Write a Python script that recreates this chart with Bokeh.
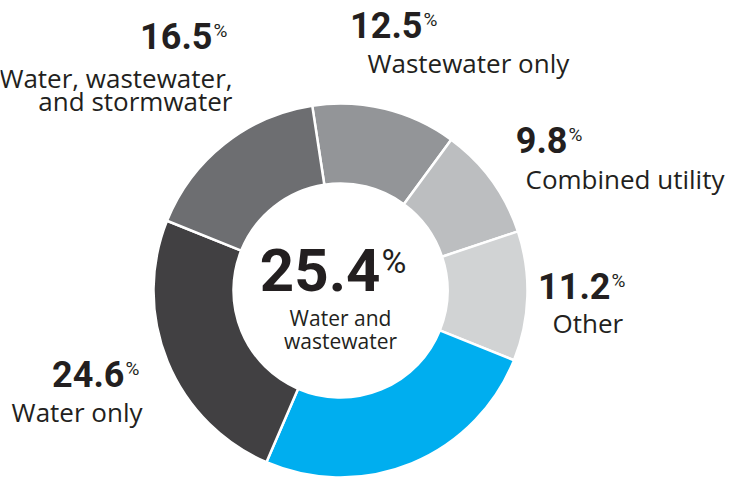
import math
from bokeh.plotting import figure
from bokeh.models import Range1d, ColumnDataSource
from bokeh.core.properties import value
from bokeh.embed import file_html
from bokeh.resources import INLINE

# ---- data ----
categories = ["Wastewater only", "Combined utility", "Other",
              "Water and wastewater", "Water only",
              "Water, wastewater,\nand stormwater"]
shares = [12.5, 9.8, 11.2, 25.4, 24.6, 16.5]
colors = ["#939598", "#bcbec0", "#d1d3d4", "#00aeef", "#414042", "#6d6e71"]

W, H = 733, 481
p = figure(width=W, height=H, output_backend="svg", toolbar_location=None,
           x_range=Range1d(0, W), y_range=Range1d(0, H), min_border=0)
p.axis.visible = False
p.grid.visible = False
p.outline_line_color = None
p.background_fill_color = "white"

def sx(x):
    return x

def sy(y):
    return H - y

cx, cy = sx(340), sy(290)
r_in, r_out = 107, 187
start_offset = -8.7  # degrees clockwise from top

total = sum(shares)
starts, ends = [], []
acc = start_offset
for v in shares:
    a0 = acc
    a1 = acc + v / total * 360.0
    starts.append(math.radians(90 - a0))
    ends.append(math.radians(90 - a1))
    acc = a1

src = ColumnDataSource(dict(start=starts, end=ends, color=colors,
                            x=[cx] * len(shares), y=[cy] * len(shares)))
p.annular_wedge(x="x", y="y", inner_radius=r_in, outer_radius=r_out,
                start_angle="start", end_angle="end", direction="clock",
                fill_color="color", line_color="white", line_width=2.5,
                source=src)

NUM_FONT = value("Roboto")
LAB_FONT = value("Open Sans")
TXT = "#231f20"
BASE_FIX = 0.35  # renderer places alphabetic baseline ~0.35em low
CAP = 0.71

def put(txt, x, baseline, size, font, style, align):
    p.text(x=[sx(x)], y=[sy(baseline - BASE_FIX * size)], text=[txt],
           text_font=font, text_font_style=style,
           text_font_size=f"{size}px", text_color=TXT,
           text_align=align, text_baseline="alphabetic")

def number(val, x_right, baseline, size, pct_size):
    put(f"{val}", x_right, baseline, size, NUM_FONT, "bold", "right")
    top = baseline - CAP * size
    put("%", x_right + 1, top + CAP * pct_size + 1, pct_size, NUM_FONT,
        "normal", "left")

def label(txt, x, baseline, align, size=26, lh=23):
    for i, line in enumerate(txt.split("\n")):
        put(line, x, baseline + i * lh, size, LAB_FONT, "normal", align)

NS, PS = 36, 19
# Wastewater only
number(shares[0], 422, 37, NS, PS)
label(categories[0], 367, 72, "left")
# Combined utility
number(shares[1], 567, 152, NS, PS)
label(categories[1], 525, 188, "left")
# Other
number(shares[2], 610, 298, NS, PS)
label(categories[2], 552, 332, "left")
# Water only
number(shares[4], 124, 386, NS, PS)
label(categories[4], 142, 421, "right")
# Water, wastewater, and stormwater
number(shares[5], 212, 48, NS, PS)
label(categories[5], 232, 87, "right")
# center
number(shares[3], 380, 290, 60, 34)
label("Water and\nwastewater", 340, 325, "center", size=21, lh=23)

open("out.html", "w").write(file_html(p, INLINE))
